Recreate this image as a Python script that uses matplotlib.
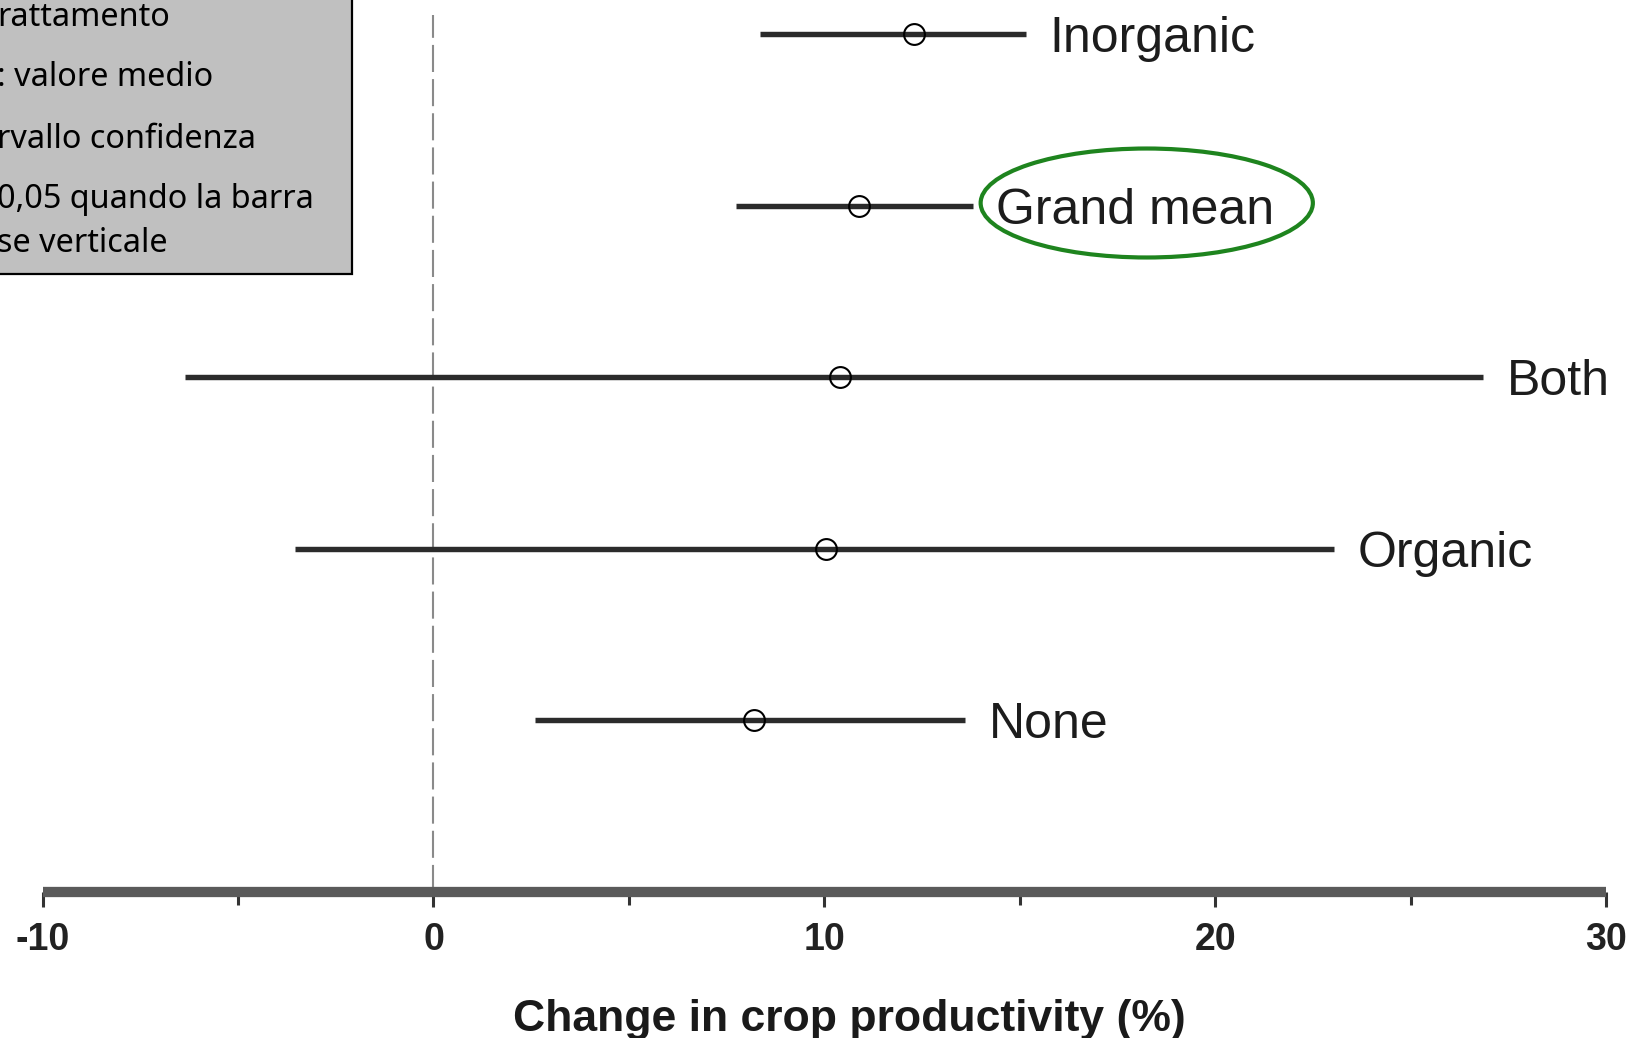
import matplotlib.pyplot as plt
import numpy as np
from matplotlib.patches import Ellipse, Rectangle

# Effetto medio sulla produttivita' e intervallo di confidenza per trattamento
groups = ['None', 'Organic', 'Both', 'Grand mean', 'Inorganic']
means = [8.2, 10.05, 10.4, 10.9, 12.3]
ci_low = [2.6, -3.55, -6.35, 7.75, 8.35]
ci_high = [13.6, 23.05, 26.85, 13.8, 15.15]
xticks = [-10, 0, 10, 20, 30]
minor_xticks = [-5, 5, 15, 25]

# testo del riquadro di legenda (tagliato a sinistra)
box_lines = ['rattamento', ': valore medio', 'rvallo confidenza',
             '0,05 quando la barra', 'se verticale']
box_baselines_px = [26, 86, 148, 208, 252]

W, H = 1628, 1038
fig = plt.figure(figsize=(W / 100, H / 100), dpi=100)
ax = fig.add_axes([0, 0, 1, 1])
ax.set_xlim(-11.09, 30.563)
ax.set_ylim(-0.851, 5.198)
for s in ['top', 'left', 'right']:
    ax.spines[s].set_visible(False)
ax.patch.set_alpha(0)

# asse orizzontale spesso
ax.spines['bottom'].set_position(('data', 0))
ax.spines['bottom'].set_bounds(-10, 30)
ax.spines['bottom'].set_linewidth(7.4)
ax.spines['bottom'].set_color('#5a5a5a')
ax.spines['bottom'].set_capstyle('butt')
ax.set_xticks(xticks)
ax.set_xticklabels([str(t) for t in xticks], fontsize=27, fontweight='bold',
                   family='Liberation Sans', color='#222222')
ax.set_xticks(minor_xticks, minor=True)
ax.tick_params(axis='x', which='major', length=10.5, width=2.2, color='#333333',
               direction='out', pad=11)
ax.tick_params(axis='x', which='minor', length=9, width=2.2, color='#333333',
               direction='out')
ax.set_yticks([])

# linea tratteggiata a zero
ax.plot([0, 0], [0, 5.11], color='#8a8a8a', lw=1.5,
        ls=(0, (13, 3.4)), zorder=1)

rows = np.arange(1, len(groups) + 1)
for y, m, lo, hi, name in zip(rows, means, ci_low, ci_high, groups):
    ax.plot([lo, hi], [y, y], color='#2b2b2b', lw=3.9,
            solid_capstyle='butt', zorder=2)
    ax.plot(m, y, 'o', ms=15, mfc='none', mec='black', mew=1.5, zorder=3)
    ax.annotate(name, xy=(hi, y), xytext=(17, -13), textcoords='offset points',
                fontsize=36, family='Liberation Sans', color='#1c1c1c',
                ha='left', va='baseline')

# evidenzia la media generale
ax.add_patch(Ellipse((18.25, 4.015), 8.5, 0.635, fill=False,
                     edgecolor='#1e841e', lw=3, zorder=4))

fig.text(849 / W, (H - 1031) / H, 'Change in crop productivity (%)',
         fontsize=32, fontweight='bold', family='Liberation Sans',
         color='#1a1a1a', ha='center', va='baseline')

# riquadro grigio in alto a sinistra
fig.patches.append(Rectangle((-10 / W, (H - 274) / H), 362 / W, 300 / H,
                             transform=fig.transFigure, facecolor='#c0c0c0',
                             edgecolor='black', lw=1.6, zorder=5))
for txt, yb in zip(box_lines, box_baselines_px):
    fig.text(-3 / W, (H - yb) / H, txt, fontsize=23.3, family='Noto Sans',
             color='black', ha='left', va='baseline', zorder=6)

fig.savefig('out.png', dpi=100)
